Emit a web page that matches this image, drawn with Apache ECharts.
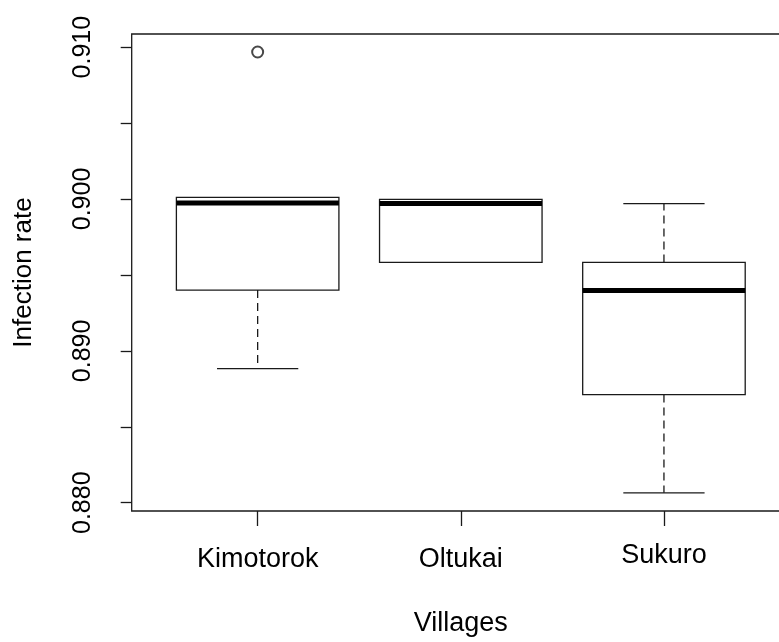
<!DOCTYPE html>
<html>
<head>
<meta charset="utf-8">
<script src="https://cdn.jsdelivr.net/npm/echarts@6/dist/echarts.min.js"></script>
<style>
html,body{margin:0;padding:0;background:#fff;overflow:hidden;width:779px;height:642px;}
#chart{width:791px;height:642px;}
</style>
</head>
<body>
<div id="chart"></div>
<script>
const categories = ['Kimotorok', 'Oltukai', 'Sukuro'];
const lowerWhisker = [0.88883, 0.89582, 0.88065];
const lowerQuartile = [0.89400, 0.89582, 0.88712];
const medians = [0.89973, 0.89971, 0.89398];
const upperQuartile = [0.90010, 0.89997, 0.89582];
const upperWhisker = [0.90010, 0.89997, 0.89969];
const outlierGroup = [0];
const outlierValue = [0.90968];
const yTicks = [0.880, 0.885, 0.890, 0.895, 0.900, 0.905, 0.910];
const yTickLabels = [0.880, 0.890, 0.900, 0.910];

const FONT = 'Liberation Sans, Arial, Helvetica, sans-serif';
const LINE = '#1a1a1a';

const boxData = categories.map((c, i) => [i + 1, lowerWhisker[i], lowerQuartile[i], medians[i], upperQuartile[i], upperWhisker[i]]);
const outlierData = outlierGroup.map((g, i) => [g + 1, outlierValue[i]]);

function renderBox(params, api) {
  const x = api.value(0);
  const lo = api.coord([x, api.value(1)]);
  const q1 = api.coord([x, api.value(2)]);
  const med = api.coord([x, api.value(3)]);
  const q3 = api.coord([x, api.value(4)]);
  const hi = api.coord([x, api.value(5)]);
  const boxW = api.size([0.8, 0])[0];
  const capW = api.size([0.4, 0])[0];
  const cx = lo[0];
  const thin = {stroke: LINE, lineWidth: 1.3, fill: null};
  const dashed = {stroke: LINE, lineWidth: 1.3, lineDash: [8, 5], fill: null};
  const children = [];
  if (hi[1] < q3[1] - 0.5) {
    children.push({type: 'line', shape: {x1: cx, y1: q3[1], x2: cx, y2: hi[1]}, style: dashed});
    children.push({type: 'line', shape: {x1: cx - capW / 2, y1: hi[1], x2: cx + capW / 2, y2: hi[1]}, style: thin});
  }
  if (lo[1] > q1[1] + 0.5) {
    children.push({type: 'line', shape: {x1: cx, y1: q1[1], x2: cx, y2: lo[1]}, style: dashed});
    children.push({type: 'line', shape: {x1: cx - capW / 2, y1: lo[1], x2: cx + capW / 2, y2: lo[1]}, style: thin});
  }
  children.push({type: 'rect', shape: {x: cx - boxW / 2, y: q3[1], width: boxW, height: q1[1] - q3[1]}, style: {stroke: LINE, lineWidth: 1.3, fill: '#fff'}});
  children.push({type: 'line', shape: {x1: cx - boxW / 2, y1: med[1], x2: cx + boxW / 2, y2: med[1]}, style: {stroke: '#000', lineWidth: 5}});
  return {type: 'group', children: children};
}

const chart = echarts.init(document.getElementById('chart'), null, {renderer: 'canvas'});
chart.setOption({
  animation: false,
  backgroundColor: '#fff',
  grid: {left: 131.7, top: 34, width: 658.2, bottom: 124.5, show: true, borderColor: LINE, borderWidth: 1.3, backgroundColor: 'transparent'},
  xAxis: {
    type: 'value', min: 0.38, max: 3.62,
    name: 'Villages', nameLocation: 'middle', nameGap: 99,
    nameTextStyle: {fontFamily: FONT, fontSize: 27, color: '#000'},
    axisLine: {show: false},
    splitLine: {show: false},
    axisTick: {show: true, length: 15, customValues: [1, 2, 3], lineStyle: {color: LINE, width: 1.3}},
    axisLabel: {show: true, customValues: [1, 2, 3], margin: 35.5, fontFamily: FONT, fontSize: 27, color: '#000',
      formatter: v => {
        const i = Math.round(v) - 1;
        const name = categories[i] || '';
        return i === 2 ? '{up|' + name + '}' : name;
      },
      rich: {up: {fontFamily: FONT, fontSize: 27, color: '#000', lineHeight: 18}}}
  },
  yAxis: {
    type: 'value', min: 0.879455, max: 0.910864,
    name: 'Infection rate', nameLocation: 'middle', nameGap: 95, nameRotate: 90,
    nameTextStyle: {fontFamily: FONT, fontSize: 26, color: '#000'},
    axisLine: {show: false},
    splitLine: {show: false},
    axisTick: {show: true, length: 11, customValues: yTicks, lineStyle: {color: LINE, width: 1.3}},
    axisLabel: {show: true, customValues: yTickLabels, rotate: 90, margin: 36, fontFamily: FONT, fontSize: 25, color: '#000',
      formatter: v => v.toFixed(3)}
  },
  series: [
    {type: 'custom', renderItem: renderBox, data: boxData, encode: {x: 0, y: [1, 2, 3, 4, 5]}, clip: false},
    {type: 'scatter', data: outlierData, symbol: 'emptyCircle', symbolSize: 11,
      itemStyle: {color: LINE, borderColor: LINE, borderWidth: 1.3}}
  ]
});
</script>
</body>
</html>
